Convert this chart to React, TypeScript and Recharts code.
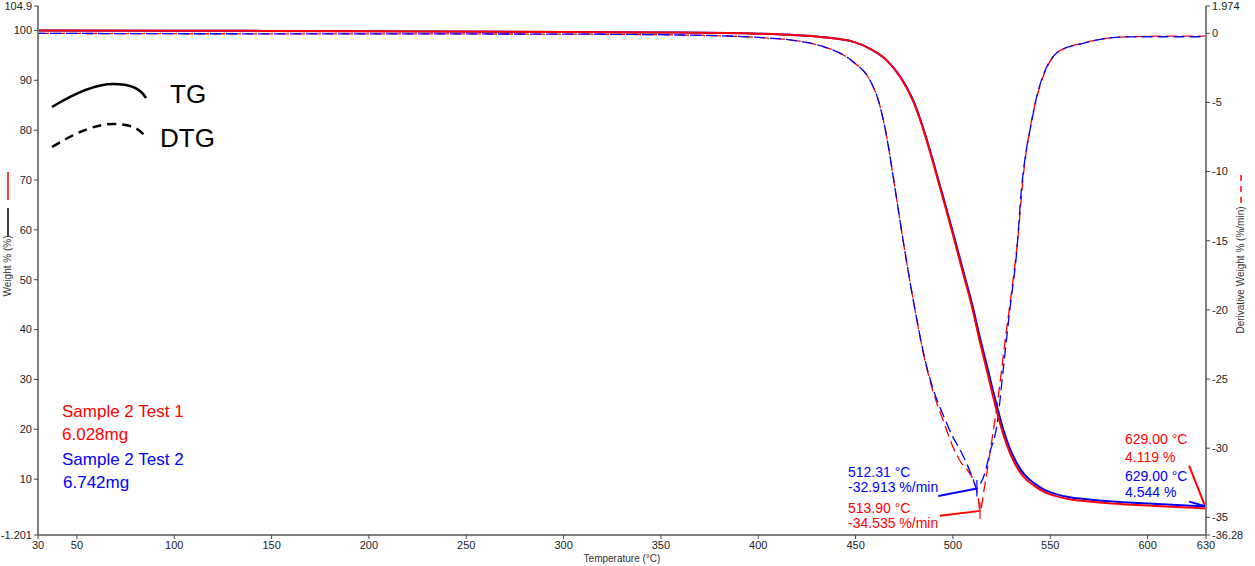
import React from 'react';
import { ComposedChart, Line, XAxis, YAxis, ReferenceLine } from 'recharts';

// TG (weight %) — shared temperature grid for both runs
const tgTemps = [30, 100, 200, 300, 350, 400, 420, 432, 449, 457, 466, 473, 480, 486, 490, 495, 500, 505, 510, 514, 517, 520, 523, 526, 529, 532, 535, 538, 542, 547, 553, 560, 570, 580, 590, 600, 615, 630];
const tgTest1 = [100, 99.95, 99.85, 99.7, 99.6, 99.35, 99.05, 98.7, 97.7, 96.4, 94.0, 90.6, 85.4, 78.6, 73.2, 66.2, 59.0, 51.6, 44.2, 37.3, 32.5, 27.6, 22.9, 18.8, 15.5, 13.0, 11.1, 9.8, 8.6, 7.4, 6.6, 5.95, 5.5, 5.15, 4.92, 4.7, 4.42, 4.119];
const tgTest2 = [100, 99.95, 99.85, 99.7, 99.6, 99.35, 99.05, 98.7, 97.7, 96.4, 94.0, 90.7, 85.6, 78.8, 73.5, 66.6, 59.5, 52.2, 44.9, 38.2, 33.5, 28.7, 24.0, 19.8, 16.4, 13.8, 11.8, 10.4, 9.1, 7.85, 7.0, 6.35, 5.9, 5.55, 5.3, 5.1, 4.82, 4.544];

// DTG (derivative weight %/min)
const dtgTemps1 = [30, 100, 200, 300, 350, 380, 400, 420, 432, 449, 457, 462, 466, 470, 475, 480, 486, 490, 495, 500, 504, 508, 511, 513, 513.9, 516, 518.5, 521, 524, 527, 530.3, 533.5, 536, 540, 543.5, 547.5, 552, 558, 564, 575, 586, 600, 615, 630];
const dtgTest1 = [0, -0.03, -0.04, -0.06, -0.1, -0.18, -0.3, -0.55, -0.9, -2.1, -3.3, -5.0, -7.5, -11.0, -15.5, -19.6, -23.9, -26.0, -28.0, -29.9, -31.0, -31.7, -32.5, -33.6, -34.535, -33.0, -30.8, -28.5, -25.5, -22.0, -18.5, -14.6, -10.5, -6.6, -4.4, -2.7, -1.6, -1.05, -0.8, -0.45, -0.27, -0.22, -0.2, -0.2];
const dtgTemps2 = [30, 100, 200, 300, 350, 380, 400, 420, 432, 449, 457, 462, 466, 470, 475, 480, 486, 490, 495, 500, 504, 507, 510, 512.31, 514, 516.4, 519, 522.5, 526, 529.3, 532.7, 535.3, 537.5, 539.6, 543, 547, 551.4, 557, 563.7, 575, 586, 600, 615, 630];
const dtgTest2 = [0, -0.03, -0.04, -0.06, -0.1, -0.18, -0.3, -0.55, -0.9, -2.1, -3.3, -5.0, -7.5, -11.0, -15.5, -19.6, -23.8, -25.8, -27.6, -29.2, -30.2, -31.1, -32.1, -32.913, -32.6, -31.8, -30.3, -28.45, -24.1, -19.9, -15.9, -11.1, -8.6, -7.0, -4.6, -2.8, -1.7, -1.1, -0.85, -0.45, -0.27, -0.25, -0.25, -0.25];

const xTicks = [30, 50, 100, 150, 200, 250, 300, 350, 400, 450, 500, 550, 600, 630];
const leftTicks = [-1.201, 10, 20, 30, 40, 50, 60, 70, 80, 90, 100, 104.9];
const rightTicks = [-36.28, -35, -30, -25, -20, -15, -10, -5, 0, 1.974];

const tgData = tgTemps.map((t, i) => ({ t, a: tgTest1[i], b: tgTest2[i] }));
const dtgData1 = dtgTemps1.map((t, i) => ({ t, d: dtgTest1[i] }));
const dtgData2 = dtgTemps2.map((t, i) => ({ t, d: dtgTest2[i] }));

const RED = '#ff0000';
const BLUE = '#0000ff';
const FONT = '"Liberation Sans", Arial, sans-serif';
const axisLine = { stroke: '#808080', strokeWidth: 2 };
const tickStyle = { fontSize: 11, fill: '#222', fontFamily: FONT };

const App = () => {
  return (
    <div style={{ position: 'absolute', left: 0, top: 0, width: 1255, height: 566, background: '#fff' }}>
      <ComposedChart width={1255} height={566} margin={{ top: 6, right: 9, bottom: 6, left: 8 }}>
        <XAxis
          dataKey="t"
          type="number"
          domain={[30, 630]}
          ticks={xTicks}
          interval={0}
          height={25}
          axisLine={axisLine}
          tickLine={{ stroke: '#444' }}
          tickSize={4}
          tick={tickStyle}
          allowDuplicatedCategory={false}
        />
        <YAxis
          yAxisId="left"
          domain={[-1.201, 104.9]}
          ticks={leftTicks}
          interval={0}
          width={30}
          axisLine={axisLine}
          tickLine={{ stroke: '#444' }}
          tickSize={4}
          tickMargin={2}
          tick={tickStyle}
        />
        <YAxis
          yAxisId="right"
          orientation="right"
          domain={[-36.28, 1.974]}
          ticks={rightTicks}
          interval={0}
          width={40}
          axisLine={axisLine}
          tickLine={{ stroke: '#444' }}
          tickSize={4}
          tickMargin={2}
          tick={tickStyle}
        />

        <Line yAxisId="right" data={dtgData1} dataKey="d" type="monotone" stroke={RED} strokeWidth={1.3} strokeDasharray="11 5" dot={false} isAnimationActive={false} />
        <Line yAxisId="right" data={dtgData2} dataKey="d" type="monotone" stroke={BLUE} strokeWidth={1.3} strokeDasharray="11 5" strokeDashoffset={4} dot={false} isAnimationActive={false} />
        <Line yAxisId="left" data={tgData} dataKey="b" type="monotone" stroke={BLUE} strokeWidth={2} dot={false} isAnimationActive={false} />
        <Line yAxisId="left" data={tgData} dataKey="a" type="monotone" stroke={RED} strokeWidth={2} dot={false} isAnimationActive={false} />

        {/* peak annotations on DTG */}
        <ReferenceLine yAxisId="right" segment={[{ x: 492.5, y: -33.46 }, { x: 512.31, y: -32.913 }]} stroke={BLUE} strokeWidth={2} />
        <ReferenceLine yAxisId="right" segment={[{ x: 512.31, y: -32.3 }, { x: 512.31, y: -33.5 }]} stroke={BLUE} strokeWidth={1.2} />
        <ReferenceLine yAxisId="right" segment={[{ x: 493.3, y: -34.88 }, { x: 513.9, y: -34.535 }]} stroke={RED} strokeWidth={2} />
        <ReferenceLine yAxisId="right" segment={[{ x: 513.9, y: -33.9 }, { x: 513.9, y: -35.1 }]} stroke={RED} strokeWidth={1.2} />
        {/* end-point annotations on TG */}
        <ReferenceLine yAxisId="left" segment={[{ x: 621.3, y: 12.7 }, { x: 630, y: 4.119 }]} stroke={RED} strokeWidth={2} />
        <ReferenceLine yAxisId="left" segment={[{ x: 621.3, y: 5.5 }, { x: 630, y: 4.544 }]} stroke={BLUE} strokeWidth={2} />
      </ComposedChart>

      <svg width={1255} height={566} style={{ position: 'absolute', left: 0, top: 0, pointerEvents: 'none' }} fontFamily={FONT}>
        {/* TG / DTG legend */}
        <path d="M52,107 C75,93 95,84 113,84 C130,84 140,88 146,98" fill="none" stroke="#000" strokeWidth={2.5} />
        <path d="M52,147 C75,133 95,124 113,124 C130,124 140,128 146,138" fill="none" stroke="#000" strokeWidth={2.5} strokeDasharray="9 6" />
        <text x={170} y={103} fontSize={26} fill="#000">TG</text>
        <text x={160} y={147} fontSize={26} fill="#000">DTG</text>

        {/* sample info */}
        <text x={62} y={417} fontSize={17} fill={RED}>Sample 2 Test 1</text>
        <text x={62} y={440} fontSize={17} fill={RED}>6.028mg</text>
        <text x={62} y={465} fontSize={17} fill={BLUE}>Sample 2 Test 2</text>
        <text x={63} y={488} fontSize={17} fill={BLUE}>6.742mg</text>

        {/* annotation labels */}
        <text x={848} y={477} fontSize={14} fill={BLUE}>512.31 °C</text>
        <text x={848} y={492} fontSize={14} fill={BLUE}>-32.913 %/min</text>
        <text x={848} y={513} fontSize={14} fill={RED}>513.90 °C</text>
        <text x={848} y={528} fontSize={14} fill={RED}>-34.535 %/min</text>
        <text x={1125} y={444} fontSize={14} fill={RED}>629.00 °C</text>
        <text x={1125} y={462} fontSize={14} fill={RED}>4.119 %</text>
        <text x={1125} y={481} fontSize={14} fill={BLUE}>629.00 °C</text>
        <text x={1125} y={497} fontSize={14} fill={BLUE}>4.544 %</text>

        {/* axis titles */}
        <line x1={8} y1={172} x2={8} y2={200} stroke={RED} strokeWidth={1.5} />
        <line x1={8} y1={208} x2={8} y2={236} stroke="#000" strokeWidth={1.5} />
        <text transform="translate(11,266) rotate(-90)" textAnchor="middle" fontSize={10} fill="#333">Weight % (%)</text>
        <line x1={1241} y1={175} x2={1241} y2={205} stroke={RED} strokeWidth={1.5} strokeDasharray="6 5" />
        <text transform="translate(1244,270) rotate(-90)" textAnchor="middle" fontSize={10} fill="#333">Derivative Weight % (%/min)</text>
        <text x={622} y={562} textAnchor="middle" fontSize={10} fill="#333">Temperature (°C)</text>
      </svg>
    </div>
  );
};

export default App;
